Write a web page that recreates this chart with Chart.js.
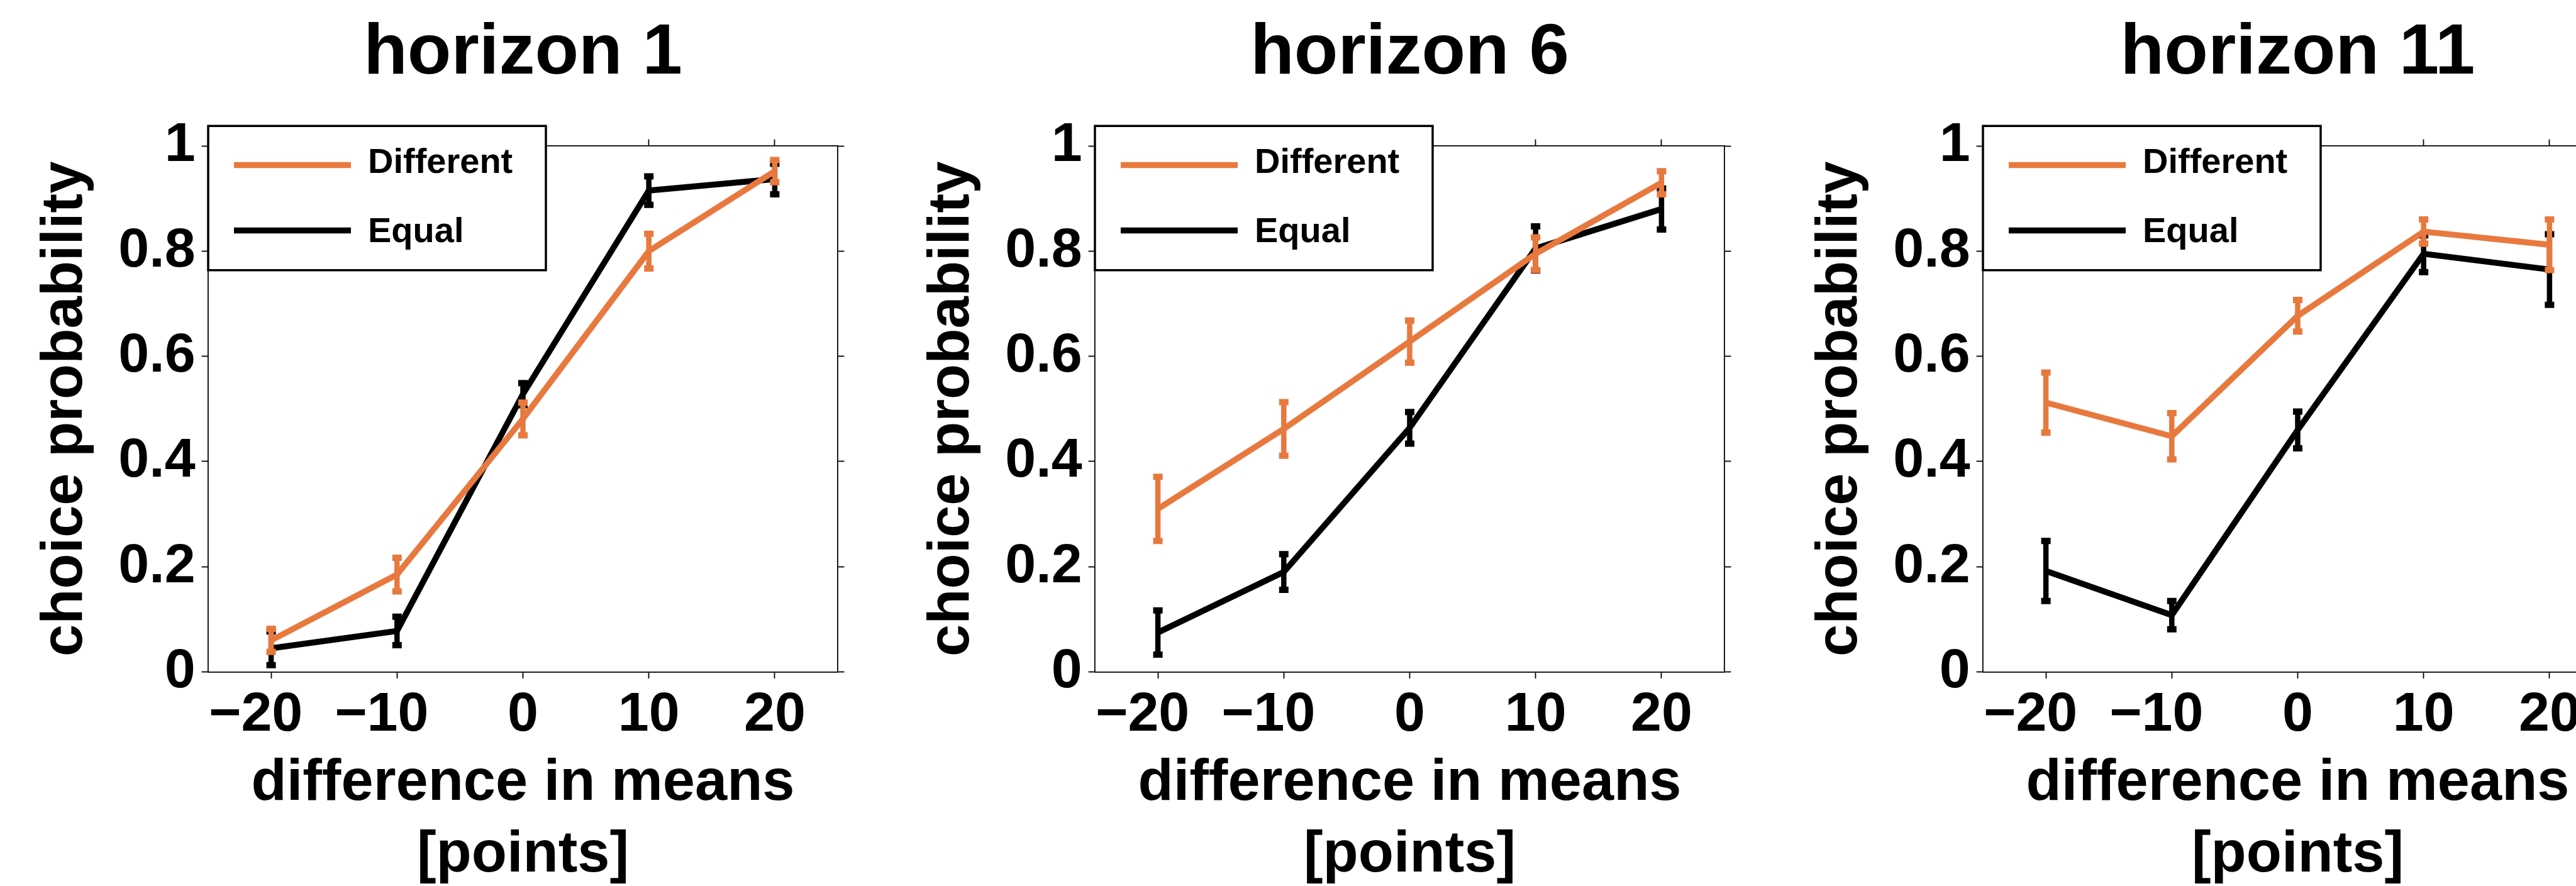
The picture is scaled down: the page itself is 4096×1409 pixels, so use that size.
<!DOCTYPE html>
<html><head><meta charset="utf-8">
<script src="https://cdn.jsdelivr.net/npm/chart.js@4.4.1/dist/chart.umd.min.js"></script>
<style>
html,body{margin:0;padding:0;background:#fff;width:4096px;height:1409px;overflow:hidden;position:relative}
canvas{position:absolute;top:0}
</style></head><body>
<canvas id="c0"></canvas><canvas id="c1"></canvas><canvas id="c2"></canvas>
<script>
// ---------- data ----------
const xValues = [-20, -10, 0, 10, 20];
const xTickValues = [-20, -10, 0, 10, 20];
const xTickLabels = ['\u221220', '\u221210', '0', '10', '20'];
const yTickValues = [0, 0.2, 0.4, 0.6, 0.8, 1];
const yTickLabels = ['0', '0.2', '0.4', '0.6', '0.8', '1'];
const panelTitles = ['horizon 1', 'horizon 6', 'horizon 11'];
const seriesNames = ['Different', 'Equal'];
const xAxisTitle = ['difference in means', '[points]'];
const yAxisTitle = 'choice probability';

const h1Different    = [0.060, 0.185, 0.481, 0.800, 0.952];
const h1DifferentErr = [0.022, 0.032, 0.031, 0.033, 0.021];
const h1Equal        = [0.045, 0.078, 0.528, 0.915, 0.937];
const h1EqualErr     = [0.032, 0.027, 0.021, 0.027, 0.029];

const h6Different    = [0.310, 0.462, 0.628, 0.795, 0.930];
const h6DifferentErr = [0.061, 0.051, 0.040, 0.031, 0.022];
const h6Equal        = [0.075, 0.190, 0.464, 0.805, 0.880];
const h6EqualErr     = [0.042, 0.034, 0.030, 0.042, 0.039];

const h11Different    = [0.512, 0.448, 0.677, 0.837, 0.812];
const h11DifferentErr = [0.057, 0.044, 0.030, 0.023, 0.048];
const h11Equal        = [0.192, 0.108, 0.460, 0.795, 0.765];
const h11EqualErr     = [0.057, 0.027, 0.035, 0.035, 0.067];

// ---------- layout / style ----------
const FONT = '"Liberation Sans", Arial, Helvetica, sans-serif';
const ORANGE = '#E8793E';
const BLACK = '#000000';
const CANVAS_W = 1661, CANVAS_H = 1480;
const Y_AXIS_W = 330, RIGHT_W = 330;
const AREA_TOP = 232, AREA_BOTTOM = 1068.6;
const PANEL_AREA_LEFT = [330.7, 1740.7, 3153.3];
const TICK_LEN = 10.4, AXIS_W = 1.8;

Chart.defaults.font.family = FONT;
Chart.defaults.font.weight = 'bold';
Chart.defaults.color = '#000';

const panels = [
  {title: panelTitles[0], diff: h1Different, diffErr: h1DifferentErr, eq: h1Equal, eqErr: h1EqualErr},
  {title: panelTitles[1], diff: h6Different, diffErr: h6DifferentErr, eq: h6Equal, eqErr: h6EqualErr},
  {title: panelTitles[2], diff: h11Different, diffErr: h11DifferentErr, eq: h11Equal, eqErr: h11EqualErr}
];

const errorBarPlugin = {
  id: 'errorBars',
  afterDatasetDraw(chart, args) {
    const ds = chart.data.datasets[args.index];
    const errs = ds.errorValues;
    if (!errs) return;
    const xs = chart.scales.x, ys = chart.scales.y, ctx = chart.ctx;
    ctx.save();
    ctx.strokeStyle = ds.borderColor;
    ctx.lineCap = 'butt';
    ds.data.forEach((p, i) => {
      const px = xs.getPixelForValue(p.x);
      const lo = ys.getPixelForValue(p.y - errs[i]);
      const hi = ys.getPixelForValue(p.y + errs[i]);
      ctx.lineWidth = 8.5;
      ctx.beginPath(); ctx.moveTo(px, lo); ctx.lineTo(px, hi); ctx.stroke();
      ctx.lineWidth = 10;
      ctx.beginPath();
      ctx.moveTo(px - 7.5, lo); ctx.lineTo(px + 7.5, lo);
      ctx.moveTo(px - 7.5, hi); ctx.lineTo(px + 7.5, hi);
      ctx.stroke();
    });
    ctx.restore();
  }
};

const boxLegendPlugin = {
  id: 'boxLegend',
  afterDraw(chart) {
    const ctx = chart.ctx, a = chart.chartArea;
    const bx = a.left, by = a.top - 31.7, bw = 537, bh = 229.4;
    ctx.save();
    ctx.fillStyle = '#fff';
    ctx.fillRect(bx, by, bw, bh);
    ctx.lineWidth = 3.5; ctx.strokeStyle = '#000';
    ctx.strokeRect(bx, by, bw, bh);
    const rows = [{line: 62.2, text: 74.5}, {line: 166.2, text: 184.5}];
    chart.data.datasets.forEach((ds, i) => {
      ctx.strokeStyle = ds.borderColor; ctx.lineWidth = 9.5; ctx.lineCap = 'butt';
      ctx.beginPath(); ctx.moveTo(bx + 41, by + rows[i].line); ctx.lineTo(bx + 227, by + rows[i].line); ctx.stroke();
      ctx.fillStyle = '#000'; ctx.font = 'bold 56px ' + FONT;
      ctx.textBaseline = 'alphabetic'; ctx.textAlign = 'left';
      ctx.fillText(ds.label, bx + 254, by + rows[i].text);
    });
    ctx.restore();
  }
};

function pts(ys) { return xValues.map((x, i) => ({x: x, y: ys[i]})); }

const gridOpts = {drawOnChartArea: false, drawTicks: true, tickLength: TICK_LEN, tickWidth: AXIS_W, tickColor: '#000'};
const borderOpts = {display: true, color: '#000', width: AXIS_W};

panels.forEach((p, idx) => {
  const cv = document.getElementById('c' + idx);
  cv.width = CANVAS_W; cv.height = CANVAS_H;
  cv.style.width = CANVAS_W + 'px'; cv.style.height = CANVAS_H + 'px';
  cv.style.left = (PANEL_AREA_LEFT[idx] - Y_AXIS_W) + 'px';
  new Chart(cv, {
    type: 'line',
    data: {
      datasets: [
        {label: seriesNames[0], data: pts(p.diff), errorValues: p.diffErr, borderColor: ORANGE, backgroundColor: ORANGE,
         borderWidth: 9.5, pointRadius: 0, tension: 0, fill: false, xAxisID: 'x', yAxisID: 'y'},
        {label: seriesNames[1], data: pts(p.eq), errorValues: p.eqErr, borderColor: BLACK, backgroundColor: BLACK,
         borderWidth: 9.5, pointRadius: 0, tension: 0, fill: false, xAxisID: 'x', yAxisID: 'y'}
      ]
    },
    options: {
      responsive: false, animation: false, devicePixelRatio: 1,
      events: [],
      layout: {padding: 0},
      plugins: {
        legend: {display: false},
        tooltip: {enabled: false},
        title: {display: true, text: p.title, color: '#000', align: 'center',
                font: {family: FONT, weight: 'bold', size: 114, lineHeight: 1},
                padding: {top: 28.4, bottom: 89.6}}
      },
      scales: {
        x: {type: 'linear', axis: 'x', position: 'bottom', min: -25, max: 25,
            afterBuildTicks: s => { s.ticks = xTickValues.map(v => ({value: v})); },
            afterFit: s => { s.height = CANVAS_H - AREA_BOTTOM; },
            grid: gridOpts, border: borderOpts,
            ticks: {autoSkip: false, maxRotation: 0, minRotation: 0, padding: 14.5, color: '#000',
                    font: {family: FONT, weight: 'bold', size: 88, lineHeight: 1},
                    callback: (v, i) => xTickLabels[i] + (xTickValues[i] < 0 ? '\u2007' : '')},
            title: {display: true, text: xAxisTitle, color: '#000',
                    font: {family: FONT, weight: 'bold', size: 92, lineHeight: 1.235},
                    padding: {top: 0, bottom: 63}}},
        xTop: {type: 'linear', axis: 'x', position: 'top', min: -25, max: 25,
            afterBuildTicks: s => { s.ticks = xTickValues.map(v => ({value: v})); },
            afterFit: s => { s.height = 0; },
            grid: gridOpts, border: borderOpts, ticks: {display: false}},
        y: {type: 'linear', axis: 'y', position: 'left', min: 0, max: 1,
            afterBuildTicks: s => { s.ticks = yTickValues.map(v => ({value: v})); },
            afterFit: s => { s.width = Y_AXIS_W; },
            grid: gridOpts, border: borderOpts,
            ticks: {autoSkip: false, padding: 10, color: '#000',
                    font: {family: FONT, weight: 'bold', size: 88, lineHeight: 1},
                    callback: (v, i) => yTickLabels[i]},
            title: {display: true, text: yAxisTitle, color: '#000',
                    font: {family: FONT, weight: 'bold', size: 92, lineHeight: 1.2},
                    padding: {top: 48, bottom: 0}}},
        yRight: {type: 'linear', axis: 'y', position: 'right', min: 0, max: 1,
            afterBuildTicks: s => { s.ticks = yTickValues.map(v => ({value: v})); },
            afterFit: s => { s.width = RIGHT_W; },
            grid: gridOpts, border: borderOpts, ticks: {display: false}}
      }
    },
    plugins: [errorBarPlugin, boxLegendPlugin]
  });
});
</script></body></html>
